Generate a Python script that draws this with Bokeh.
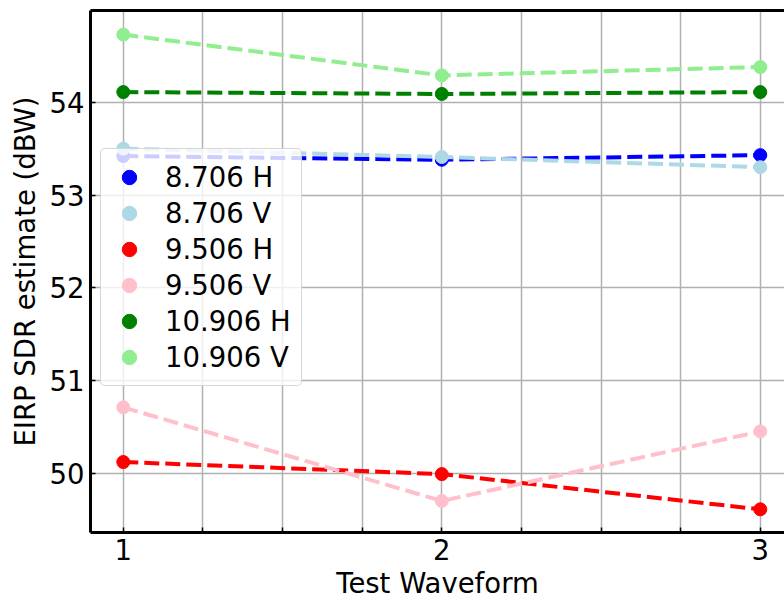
from bokeh.plotting import figure
from bokeh.models import FixedTicker, LinearAxis, Legend, LegendItem, Range1d
from bokeh.embed import file_html
from bokeh.resources import INLINE

# ---- data ----
waveforms = [1, 2, 3]
series_labels = ["8.706 H", "8.706 V", "9.506 H", "9.506 V", "10.906 H", "10.906 V"]
series_colors = ["#0000ff", "#add8e6", "#ff0000", "#ffc0cb", "#008000", "#90ee90"]
eirp_8706_h = [53.42, 53.38, 53.43]
eirp_8706_v = [53.50, 53.41, 53.30]
eirp_9506_h = [50.12, 49.99, 49.61]
eirp_9506_v = [50.71, 49.70, 50.45]
eirp_10906_h = [54.11, 54.09, 54.11]
eirp_10906_v = [54.73, 54.29, 54.38]
series_values = [eirp_8706_h, eirp_8706_v, eirp_9506_h, eirp_9506_v, eirp_10906_h, eirp_10906_v]
x_major_ticks = [1, 2, 3]
x_minor_ticks = [1.25, 1.5, 1.75, 2.25, 2.5, 2.75]
y_ticks = [50, 51, 52, 53, 54]

FONT = "DejaVu Sans"
FS = "27.5px"

p = figure(width=784, height=603, output_backend="svg", toolbar_location=None,
           x_range=Range1d(0.897, 3.076), y_range=Range1d(49.36, 54.99),
           min_border_left=90, min_border_right=0, min_border_top=10,
           min_border_bottom=71)
p.outline_line_color = None
p.background_fill_color = "white"
p.border_fill_color = "white"

# axes
for ax in (p.xaxis[0], p.yaxis[0]):
    ax.axis_line_width = 3
    ax.axis_line_color = "black"
    ax.major_tick_in = 5
    ax.major_tick_out = 0
    ax.major_tick_line_width = 1.5
    ax.minor_tick_in = 5
    ax.minor_tick_out = 0
    ax.minor_tick_line_width = 1.5
    ax.major_label_text_font = FONT
    ax.major_label_text_font_size = FS
    ax.major_label_text_color = "black"
    ax.major_label_standoff = 6
    ax.axis_label_text_font = FONT
    ax.axis_label_text_font_size = FS
    ax.axis_label_text_font_style = "normal"
    ax.axis_label_text_color = "black"

p.xaxis.ticker = FixedTicker(ticks=x_major_ticks, minor_ticks=x_minor_ticks)
p.yaxis.ticker = FixedTicker(ticks=y_ticks)
p.yaxis.minor_tick_in = 0
p.xaxis.axis_label = "Test Waveform"
p.yaxis.axis_label = "EIRP SDR estimate (dBW)"
p.xaxis.axis_label_standoff = 4
p.yaxis.axis_label_standoff = 6

# top spine
top = LinearAxis(ticker=FixedTicker(ticks=[]), axis_line_width=3, axis_line_color="black",
                 major_tick_line_color=None, minor_tick_line_color=None,
                 major_label_text_font_size="0px", major_label_standoff=0)
p.add_layout(top, "above")

# grid
for g in (p.xgrid[0], p.ygrid[0]):
    g.grid_line_color = "#b0b0b0"
    g.grid_line_width = 1.5
p.xgrid.minor_grid_line_color = "#b0b0b0"
p.xgrid.minor_grid_line_width = 1.5

items = []
for lab, col, vals in zip(series_labels, series_colors, series_values):
    p.line(waveforms, vals, line_color=col, line_width=4, line_dash="15 6")
    r = p.scatter(waveforms, vals, marker="circle", size=13, fill_color=col, line_color=col)
    items.append(LegendItem(label=lab, renderers=[r]))

legend = Legend(items=items, location=(10, 146), padding=10, spacing=0,
                glyph_width=36, glyph_height=36, label_height=36, label_standoff=18,
                label_text_font=FONT, label_text_font_size=FS, label_text_color="black",
                border_line_color="#cccccc", border_line_alpha=0.8, border_line_width=1,
                background_fill_color="white", background_fill_alpha=0.8, margin=0)
if "border_radius" in Legend.properties():
    legend.border_radius = 5
p.add_layout(legend)

open("out.html", "w").write(file_html(p, INLINE))
